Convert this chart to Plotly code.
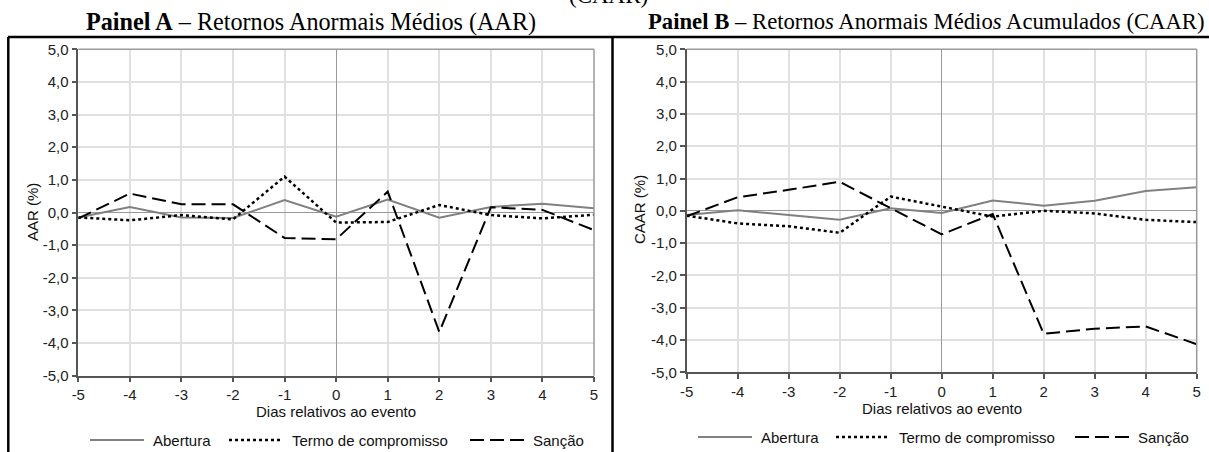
import plotly.graph_objects as go

# ---------------- data ----------------
days = [-5, -4, -3, -2, -1, 0, 1, 2, 3, 4, 5]
x_tick_labels = ["-5", "-4", "-3", "-2", "-1", "0", "1", "2", "3", "4", "5"]
y_tick_vals = [-5, -4, -3, -2, -1, 0, 1, 2, 3, 4, 5]
y_tick_labels = ["-5,0", "-4,0", "-3,0", "-2,0", "-1,0", "0,0", "1,0", "2,0", "3,0", "4,0", "5,0"]

series_names = ["Abertura", "Termo de compromisso", "Sanção"]

aar_abertura = [-0.15, 0.17, -0.15, -0.17, 0.38, -0.13, 0.40, -0.16, 0.17, 0.27, 0.13]
aar_termo = [-0.15, -0.24, -0.08, -0.21, 1.10, -0.31, -0.29, 0.23, -0.08, -0.18, -0.07]
aar_sancao = [-0.18, 0.58, 0.25, 0.25, -0.78, -0.82, 0.64, -3.66, 0.16, 0.08, -0.54]

caar_abertura = [-0.13, 0.02, -0.13, -0.28, 0.08, -0.07, 0.32, 0.16, 0.31, 0.61, 0.73]
caar_termo = [-0.15, -0.39, -0.48, -0.68, 0.44, 0.12, -0.18, 0.00, -0.08, -0.28, -0.35]
caar_sancao = [-0.17, 0.42, 0.65, 0.90, 0.08, -0.73, -0.10, -3.81, -3.65, -3.58, -4.13]

# ---------------- layout constants ----------------
W, H = 1209, 452

def px(x):  # window pixel -> paper fraction
    return x / W
def py(y):
    return 1 - y / H

styles = [
    dict(color="#808080", width=2, dash="solid"),
    dict(color="#000000", width=2.5, dash="3px,3px"),
    dict(color="#000000", width=2, dash="14px,6px"),
]

fig = go.Figure()

panels = [
    dict(xa="x", ya="y", data=[aar_abertura, aar_termo, aar_sancao]),
    dict(xa="x2", ya="y2", data=[caar_abertura, caar_termo, caar_sancao]),
]
for p in panels:
    for name, vals, st in zip(series_names, p["data"], styles):
        fig.add_trace(go.Scatter(
            x=days, y=vals, mode="lines", name=name,
            xaxis=p["xa"], yaxis=p["ya"], showlegend=False,
            line=dict(color=st["color"], width=st["width"], dash=st["dash"]),
            hoverinfo="skip",
        ))

tick_font = dict(family="Liberation Sans, Arial", size=15, color="#222222")
axis_common = dict(
    automargin=False,
    showgrid=True, gridcolor="#e0e0e0", gridwidth=1.5,
    zeroline=True, zerolinecolor="#999999", zerolinewidth=1,
    showline=True, linecolor="#555555", linewidth=1.5,
    ticks="outside", ticklen=5, tickcolor="#555555", tickwidth=1.5,
    tickfont=tick_font,
)

xa_dom = [px(78.3), px(594)]
xb_dom = [px(686.7), px(1196.7)]
ya_dom = [py(375.7), py(49.3)]
yb_dom = [py(372.3), py(49.3)]

fig.update_layout(
    width=W, height=H,
    margin=dict(l=0, r=0, t=0, b=0, pad=0),
    paper_bgcolor="white", plot_bgcolor="white",
    separators=",.",
    xaxis=dict(domain=xa_dom, anchor="y", range=[-5, 5], tickvals=days, ticktext=x_tick_labels,
               ticklabelstandoff=0, **axis_common),
    yaxis=dict(domain=ya_dom, anchor="x", range=[-5, 5], tickvals=y_tick_vals, ticktext=y_tick_labels,
               ticklabelstandoff=0, **axis_common),
    xaxis2=dict(domain=xb_dom, anchor="y2", range=[-5, 5], tickvals=days, ticktext=x_tick_labels,
                ticklabelstandoff=0, **axis_common),
    yaxis2=dict(domain=yb_dom, anchor="x2", range=[-5, 5], tickvals=y_tick_vals, ticktext=y_tick_labels,
                ticklabelstandoff=0, **axis_common),
)

shapes = []
# top/right plot borders (lighter gray)
for xr, yr in [("x", "y"), ("x2", "y2")]:
    shapes.append(dict(type="line", xref=xr + " domain", yref=yr + " domain", x0=0, x1=1, y0=1, y1=1,
                       line=dict(color="#9a9a9a", width=1.5)))
    shapes.append(dict(type="line", xref=xr + " domain", yref=yr + " domain", x0=1, x1=1, y0=0, y1=1,
                       line=dict(color="#9a9a9a", width=1.5)))

# table borders
shapes.append(dict(type="line", xref="paper", yref="paper", x0=px(8), x1=px(1215), y0=py(37), y1=py(37),
                   line=dict(color="black", width=2.5)))
shapes.append(dict(type="line", xref="paper", yref="paper", x0=px(8.3), x1=px(8.3), y0=py(37), y1=py(470),
                   line=dict(color="black", width=2.5)))
shapes.append(dict(type="line", xref="paper", yref="paper", x0=px(612.5), x1=px(612.5), y0=py(37), y1=py(470),
                   line=dict(color="black", width=2.5)))

annotations = []
# custom legends
legend_specs = [
    dict(starts=[90, 229, 470], y=440),
    dict(starts=[698, 836, 1075], y=437),
]
for spec in legend_specs:
    for name, st, x0 in zip(series_names, styles, spec["starts"]):
        shapes.append(dict(type="line", xref="paper", yref="paper",
                           x0=px(x0), x1=px(x0 + 54), y0=py(spec["y"]), y1=py(spec["y"]),
                           line=dict(color=st["color"], width=st["width"], dash=st["dash"])))
        annotations.append(dict(text=name, xref="paper", yref="paper", x=px(x0 + 61), y=py(spec["y"]),
                                xanchor="left", yanchor="middle", showarrow=False,
                                font=dict(family="Liberation Sans, Arial", size=15, color="#111111")))

# axis titles
axis_font = dict(family="Liberation Sans, Arial", size=15, color="#111111")
annotations += [
    dict(text="Dias relativos ao evento", xref="paper", yref="paper", x=px(336), y=py(411),
         xanchor="center", yanchor="middle", showarrow=False, font=axis_font),
    dict(text="Dias relativos ao evento", xref="paper", yref="paper", x=px(942), y=py(408),
         xanchor="center", yanchor="middle", showarrow=False, font=axis_font),
    dict(text="AAR (%)", xref="paper", yref="paper", x=px(32), y=py(212), textangle=-90,
         xanchor="center", yanchor="middle", showarrow=False, font=axis_font),
    dict(text="CAAR (%)", xref="paper", yref="paper", x=px(640), y=py(210), textangle=-90,
         xanchor="center", yanchor="middle", showarrow=False, font=axis_font),
]

# panel titles
annotations += [
    dict(text="<b>Painel A</b> – Retornos Anormais Médios (AAR)", xref="paper", yref="paper",
         x=px(310.5), y=py(22), xanchor="center", yanchor="middle", showarrow=False,
         font=dict(family="Liberation Serif, Times New Roman", size=24.2, color="black")),
    dict(text="<b>Painel B</b> – Retorno<i>s</i> Anormais Médio<i>s</i> Acumulado<i>s</i> (CAAR)",
         xref="paper", yref="paper", x=px(926), y=py(22), xanchor="center", yanchor="middle",
         showarrow=False, font=dict(family="Liberation Serif, Times New Roman", size=22.7, color="black")),
    dict(text="(CAAR)", xref="paper", yref="paper", x=px(608), y=py(-4), xanchor="center",
         yanchor="middle", showarrow=False,
         font=dict(family="Liberation Serif, Times New Roman", size=23, color="black")),
]

fig.update_layout(shapes=shapes, annotations=annotations)
fig.write_html("out.html")
